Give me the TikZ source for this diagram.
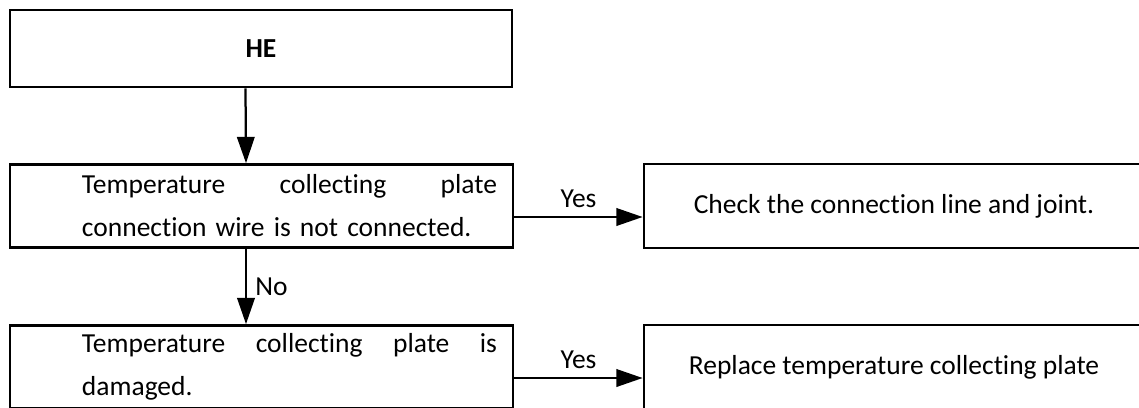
\documentclass[tikz,border=0pt]{standalone}
\usepackage{fontspec}
\setmainfont[Ligatures=CommonOff]{Carlito}
\usepackage{tikz}
\usetikzlibrary{arrows.meta,positioning,calc}

% indent used at the start of each line of a question box
\newcommand{\qind}{\hspace*{22.4pt}}

\begin{document}
\begin{tikzpicture}[
  x=0.4pt, y=-0.4pt,
  >={Triangle[length=10.5pt,width=7pt]},
  hbox/.style={draw, line width=1.1pt, rectangle, minimum width=200.8pt,
               minimum height=30.8pt, inner sep=0pt,
               font=\fontsize{11}{17.2}\selectfont\bfseries},
  % question boxes: first line spread by \hfill
  qbox/.style={draw, line width=1.1pt, rectangle, minimum width=201.2pt,
               minimum height=33.2pt, inner xsep=6.4pt, inner ysep=0pt,
               text width=188.4pt, align=left,
               font=\fontsize{11}{17.2}\selectfont},
  abox/.style={draw, line width=1.1pt, rectangle, minimum width=200pt,
               minimum height=33.6pt, inner sep=0pt, align=center,
               font=\fontsize{11}{17.2}\selectfont},
  flow/.style={->, line width=0.9pt},
  lbl/.style={font=\fontsize{11}{13}\selectfont},
]
\useasboundingbox (0,0) rectangle (1139,407);

%%---- Left column ---------------------------------------------------
\node[hbox] (HE) at (261,48.5) {HE};

\node[qbox] (wire) at (261.5,206)
  {\qind Temperature\hfill collecting\hfill plate\\
   \qind connection wire is not connected.};

\node[qbox] (plate) at (261.5,367)
  {\qind Temperature\hfill collecting\hfill plate\hfill is\\
   \qind damaged.};

%%---- Right column --------------------------------------------------
\node[abox] (check) at (894,206) {Check the connection line and joint.};
\node[abox] (replace) at (894,367) {Replace temperature collecting plate};

%%---- Connectors ----------------------------------------------------
\draw[flow] ([xshift=-6.2pt]HE.south) -- ([xshift=-6.2pt]wire.north);

\draw[flow] ([yshift=-4.4pt]wire.east) -- ([yshift=-4.4pt]wire.east -| check.west)
  node[lbl, midway, above] {Yes};

\draw[flow] ([xshift=-6.2pt]wire.south) -- ([xshift=-6.2pt]plate.north)
  node[lbl, midway, right] {No};

\draw[flow] ([yshift=-4.4pt]plate.east) -- ([yshift=-4.4pt]plate.east -| replace.west)
  node[lbl, midway, above] {Yes};

\end{tikzpicture}
\end{document}
